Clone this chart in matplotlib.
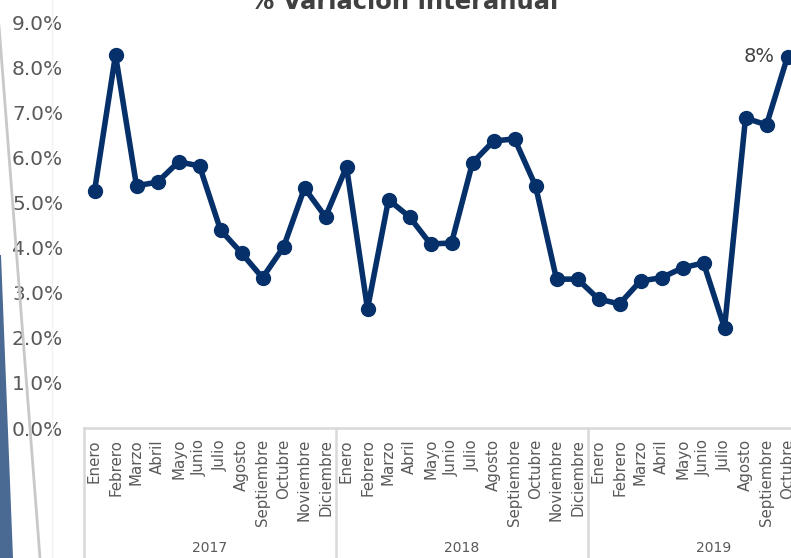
import matplotlib.pyplot as plt
import numpy as np
from matplotlib.patches import Polygon
from matplotlib.lines import Line2D

# datos
meses = ['Enero', 'Febrero', 'Marzo', 'Abril', 'Mayo', 'Junio', 'Julio',
         'Agosto', 'Septiembre', 'Octubre', 'Noviembre', 'Diciembre']
anios = ['2017', '2018', '2019']
var_2017 = [5.25, 8.27, 5.37, 5.45, 5.90, 5.81, 4.39, 3.88, 3.33, 4.01, 5.32, 4.68]
var_2018 = [5.79, 2.64, 5.06, 4.68, 4.08, 4.10, 5.88, 6.36, 6.41, 5.37, 3.30, 3.30]
var_2019 = [2.86, 2.75, 3.26, 3.33, 3.55, 3.66, 2.22, 6.87, 6.72, 8.23]

valores = var_2017 + var_2018 + var_2019
etiquetas = meses + meses + meses[:len(var_2019)]
x = np.arange(len(valores))

W, H = 791, 558
fig = plt.figure(figsize=(W / 100, H / 100), dpi=100)
plt.rcParams['font.family'] = ['DejaVu Sans']

gris = '#595959'
azul = '#06306a'

# decoracion izquierda
fig.patches.append(Polygon([[0, 1 - 255 / H], [1 / W, 1 - 255 / H], [13 / W, 0], [0, 0]],
                           closed=True, transform=fig.transFigure,
                           facecolor='#4a6a94', edgecolor='none'))
fig.lines.append(Line2D([-3 / W, 40 / W], [1, 0], transform=fig.transFigure,
                        color='#c8c8c8', lw=2))
fig.lines.append(Line2D([52 / W, 52 / W], [1, 0], transform=fig.transFigure,
                        color='#f2f2f2', lw=1))

ax = fig.add_axes([84 / W, (H - 428) / H, 714 / W, 406 / H])
ax.plot(x, valores, color=azul, lw=4, marker='o', markersize=10, clip_on=False)
ax.set_xlim(-0.5, len(valores) - 0.5)
ax.set_ylim(0, 9)

ax.set_yticks(np.arange(0, 10, 1))
ax.set_yticklabels([f'{v:.1f}%' for v in np.arange(0, 10, 1)])
ax.tick_params(axis='y', length=0, pad=15, labelsize=14.5, labelcolor=gris)

ax.set_xticks(x)
ax.set_xticklabels(etiquetas, rotation=90, va='top')
ax.tick_params(axis='x', length=0, pad=8, labelsize=10.8, labelcolor=gris)

for s in ['top', 'right', 'left']:
    ax.spines[s].set_visible(False)
ax.spines['bottom'].set_color('#d9d9d9')
ax.spines['bottom'].set_linewidth(1.8)

# separadores y etiquetas de anio
trans = ax.get_xaxis_transform()
bordes = [-0.5, 11.5, 23.5]
for b in bordes:
    ax.add_line(Line2D([b, b], [0, -0.35], transform=trans, color='#d9d9d9',
                       lw=1.8, clip_on=False))
for i, a in enumerate(anios):
    centro = i * 12 + 5.5
    ax.text(centro, -0.296, a, transform=trans, ha='center', va='center',
            fontsize=10, color=gris)

ax.text(x[-1] - 0.6, valores[-1], '8%', ha='right', va='center',
        fontsize=14, color='#404040')

fig.text(404 / W, 1 - 9 / H, '% Variación interanual', ha='center', va='baseline',
         fontsize=17.5, fontweight='bold', color='#404040')

fig.savefig('out.png', dpi=100)
